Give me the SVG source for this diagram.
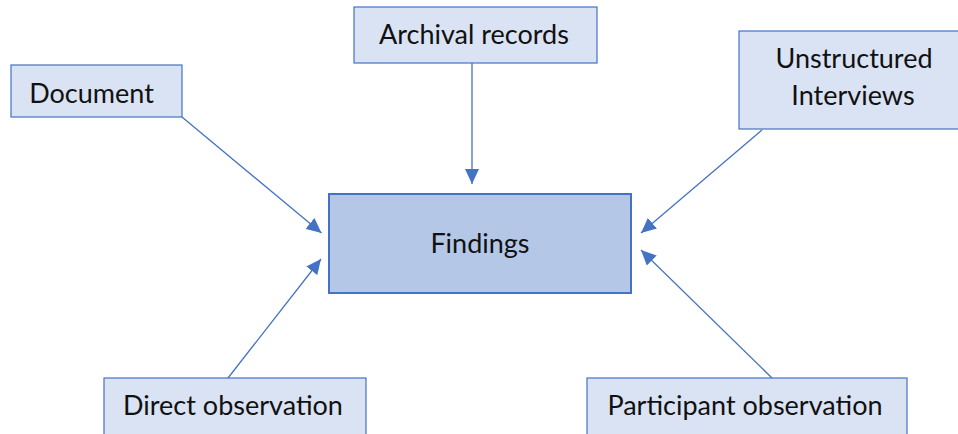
<svg xmlns="http://www.w3.org/2000/svg" width="958" height="434" viewBox="0 0 958 434">
  <style>
    .src { fill: #dae3f3; stroke: #4472c4; stroke-width: 1.2; }
    .hub { fill: #b4c7e7; stroke: #4472c4; stroke-width: 2; }
    .lbl { font-family: "Lato", "Liberation Sans", sans-serif; font-size: 27px; fill: #111111; text-anchor: middle; }
    .edge { stroke: #4472c4; stroke-width: 1.3; fill: none; marker-end: url(#arrow); }
  </style>
  <defs>
    <marker id="arrow" markerUnits="userSpaceOnUse" markerWidth="16" markerHeight="14" refX="15" refY="7" orient="auto">
      <path d="M0,0 L15,7 L0,14 Z" fill="#4472c4"/>
    </marker>
  </defs>
  <rect width="958" height="434" fill="#ffffff"/>

  <g id="connectors">
    <line class="edge" x1="182" y1="117" x2="321.5" y2="233"/>
    <line class="edge" x1="472" y1="63" x2="472" y2="184"/>
    <line class="edge" x1="762" y1="130" x2="641" y2="233"/>
    <line class="edge" x1="228" y1="378" x2="321" y2="259"/>
    <line class="edge" x1="772" y1="378" x2="641" y2="250"/>
  </g>

  <g id="findings">
    <rect class="hub" x="329" y="194" width="302" height="99"/>
    <text class="lbl" x="480" y="253">Findings</text>
  </g>

  <g id="document">
    <rect class="src" x="11" y="65" width="171" height="52"/>
    <text class="lbl" x="91.5" y="102.5">Document</text>
  </g>

  <g id="archival-records">
    <rect class="src" x="354" y="7" width="243" height="56"/>
    <text class="lbl" x="474" y="44">Archival records</text>
  </g>

  <g id="unstructured-interviews">
    <rect class="src" x="739" y="31" width="225" height="98"/>
    <text class="lbl" x="854" y="68">Unstructured</text>
    <text class="lbl" x="853" y="105">Interviews</text>
  </g>

  <g id="direct-observation">
    <rect class="src" x="104" y="378" width="262" height="62"/>
    <text class="lbl" x="233" y="415">Direct observation</text>
  </g>

  <g id="participant-observation">
    <rect class="src" x="587" y="378" width="320" height="62"/>
    <text class="lbl" x="745" y="415">Participant observation</text>
  </g>
</svg>
